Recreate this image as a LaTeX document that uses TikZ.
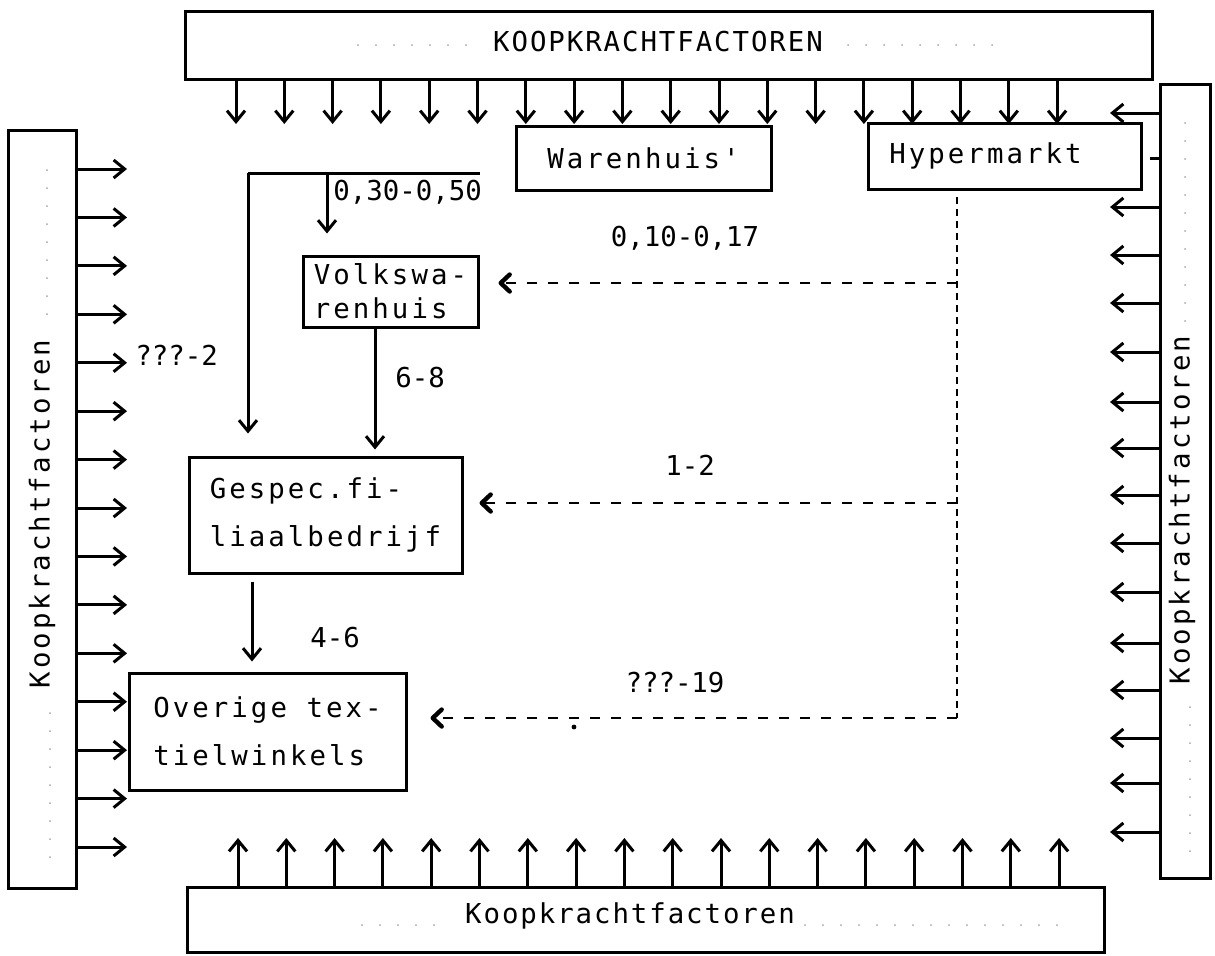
\documentclass[tikz,border=0pt]{standalone}
\usepackage{fontspec}
\newfontfamily\tw[LetterSpace=11]{DejaVu Sans Mono}
\newfontfamily\tb[LetterSpace=7]{DejaVu Sans Mono}
\newfontfamily\tl{DejaVu Sans Mono}
\usetikzlibrary{arrows.meta}
\begin{document}
\begin{tikzpicture}[x=0.5pt,y=-0.5pt,
  lw/.style={line width=1.5pt},
  tip/.style={-{Straight Barb[length=5.5pt,width=9pt,line width=1.5pt]}},
  arr/.style={lw,tip},
  dtip/.style={-{Straight Barb[length=4.5pt,width=8.5pt,line width=2.2pt,round]}},
  darr/.style={line width=1.3pt,dash pattern=on 5pt off 5.5pt,dtip},
  vdash/.style={line width=1.3pt,dash pattern=on 3.5pt off 2.5pt},
  box/.style={draw,lw,rectangle,inner sep=0pt,align=left,font=\tw\fontsize{13.7}{24}\selectfont},
  bar/.style={draw,lw,rectangle,inner sep=0pt},
  bartxt/.style={inner sep=0pt,font=\tb\fontsize{13.7}{16}\selectfont},
  sidetxt/.style={inner sep=0pt,rotate=90,font=\tw\fontsize{13.7}{16}\selectfont},
  txt/.style={inner sep=0pt,font=\tl\fontsize{13.7}{16}\selectfont},
  lead/.style={gray!70,line width=1pt,line cap=round,dash pattern=on 0pt off 9pt}
]
\useasboundingbox (0,0) rectangle (1215,955);

% bars
\node[bar,minimum width=483.5pt,minimum height=34pt] (top) at (668.5,45) {};
\node[bar,minimum width=458.5pt,minimum height=32.5pt] (bot) at (645.5,919.5) {};
\node[bar,minimum width=34pt,minimum height=379pt] (lft) at (42,509) {};
\node[bar,minimum width=25pt,minimum height=397pt] (rgt) at (1185,481) {};

\node[bartxt] (toptxt) at (658,42) {KOOPKRACHTFACTOREN};
\node[bartxt] (bottxt) at (630,916) {Koopkrachtfactoren};
\node[sidetxt] (lfttxt) at (42,514) {Koopkrachtfactoren};
\node[sidetxt] (rgttxt) at (1182,510) {Koopkrachtfactoren};

% faint dot leaders
\draw[lead] (358,45) -- (470,45);
\draw[lead] (848,45) -- (1000,45);
\draw[lead] (362,925) -- (450,925);
\draw[lead] (805,925) -- (1072,925);
\draw[lead] (47,170) -- (47,330);
\draw[lead] (50,713) -- (50,872);
\draw[lead] (1185,123) -- (1185,322);
\draw[lead] (1190,707) -- (1190,862);

% boxes
\node[box,minimum width=127.5pt,minimum height=32pt] (waren) at (643.5,158) {Warenhuis'};
\node[box,minimum width=136.5pt,minimum height=33pt] (hyper) at (1004.5,156) {Hypermarkt\hspace*{19pt}};
\node[box,minimum width=87.5pt,minimum height=35.5pt,font=\tw\fontsize{13.7}{17}\selectfont] (volks) at (390.5,291.5) {Volkswa-\\renhuis};
\node[box,minimum width=136.5pt,minimum height=58pt] (gespec) at (325.5,515) {Gespec.fi-\\liaalbedrijf};
\node[box,minimum width=138.5pt,minimum height=58.5pt] (over) at (267.5,731.5) {Overige tex-\\tielwinkels};

% arrows from bars
\foreach \i in {0,...,17}{
  \draw[arr] ({236+48.3*\i},79) -- ({236+48.3*\i},124);
  \draw[arr] ({238+48.3*\i},887) -- ({238+48.3*\i},838);
}
\foreach \i in {0,...,14}{
  \draw[arr] (76,{169+48.43*\i}) -- (127,{169+48.43*\i});
}
\foreach \y in {113,207,255,303,352,402,448,495,543,592,643,690,738,783,832}{
  \draw[arr] (1160,\y) -- (1110,\y);
}
\draw[lw] (1160,158) -- (1150,158);

% feed line
\coordinate (f1) at (480,173);
\coordinate (f2) at (248,173);
\coordinate (f3) at (327,173);
\draw[lw] (f1) -- (f2);
\draw[arr,shorten >=11pt] (f2) -- (f2 |- gespec.north);
\draw[arr,shorten >=10.5pt] (f3) -- (f3 |- volks.north);
\node[txt,anchor=base west] (l1) at (333,200) {0,30-0,50};

% internal flows
\coordinate (c68) at (375,0);
\draw[arr,shorten >=3pt] (c68 |- volks.south) -- (c68 |- gespec.north);
\node[txt] (l2) at (420,378) {6-8};
\coordinate (c46) at (252,0);
\draw[arr,shorten <=3.5pt,shorten >=5pt] (c46 |- gespec.south) -- (c46 |- over.north);
\node[txt,anchor=base west] (l3) at (310,647) {4-6};
\node[txt,anchor=base west] (l4) at (135,365) {???-2};

% hypermarkt dashed flows
\coordinate (jv) at (957,197);
\coordinate (j1) at (957,283);
\coordinate (j2) at (957,503);
\coordinate (jb) at (957,718);
\draw[vdash] (jv) -- (jb);
\draw[darr,shorten >=9.5pt] (j1) -- (j1 -| volks.east);
\draw[darr,shorten >=8pt] (j2) -- (j2 -| gespec.east);
\draw[darr,shorten >=11.5pt] (jb) -- (jb -| over.east);
\node[txt] (l5) at (685,238) {0,10-0,17};
\node[txt] (l6) at (690,465) {1-2};
\node[txt] (l7) at (675,683) {???-19};
\fill (574,727) circle (1.2pt);
\end{tikzpicture}
\end{document}
